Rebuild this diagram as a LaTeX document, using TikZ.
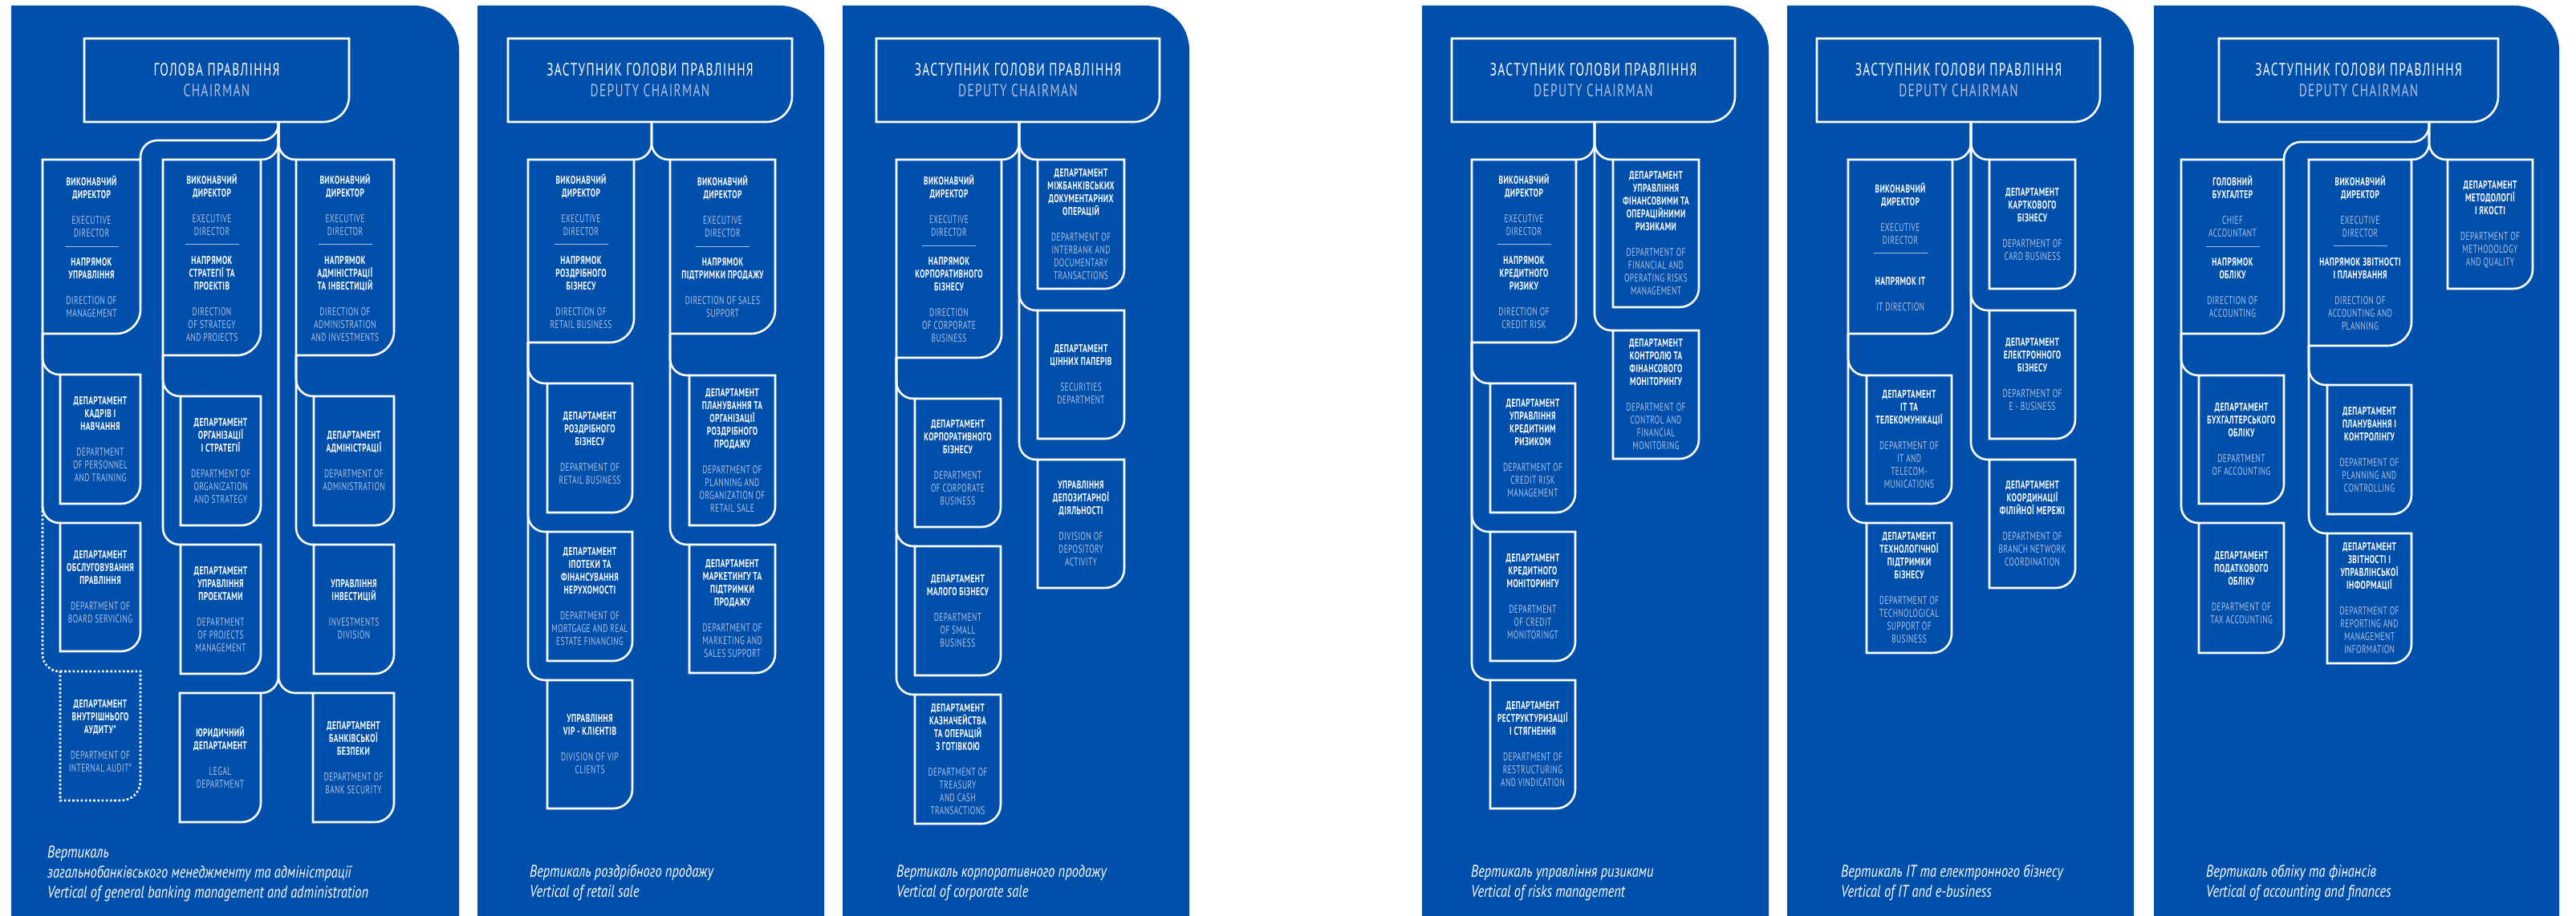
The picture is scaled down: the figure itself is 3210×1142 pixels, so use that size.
\documentclass[tikz,border=0pt]{standalone}
\usepackage{fontspec}
\setmainfont{PT Sans}[FakeStretch=0.67,LetterSpace=3]
\newfontfamily\titlefont{PT Sans}[FakeStretch=0.7,LetterSpace=6]
\newfontfamily\capfont{PT Sans}[FakeStretch=0.78]
\definecolor{panel}{RGB}{0,79,170}
\definecolor{lt}{RGB}{178,192,228}
\newcommand\blk{\\[16pt]}
\newcommand\eng[1]{{\mdseries\color{lt}#1}}
\newcommand\rsep{\\[-4pt]{\color{lt}\rule{67pt}{0.8pt}}\\[8pt]}
\newcommand\EDhead{ВИКОНАВЧИЙ\\ДИРЕКТОР\blk\eng{EXECUTIVE\\DIRECTOR}\rsep}
\newcommand\dep{ДЕПАРТАМЕНТ}
\newcommand\panelshape[2]{%
  \fill[panel] (#1,1142) -- (#1,7) -- ({#2-55},7) .. controls ({#2-24.6},7) and (#2,31.6) .. (#2,62) -- (#2,1142) -- cycle;}
\newcommand\ubox[8][]{%
  \draw[boxline,#1] (#3,#4) -- (#5,#4) -- (#5,{#6-#7}) .. controls (#5,{#6-0.448*#7}) and ({#5-0.448*#7},#6) .. ({#5-#7},#6) -- (#3,#6) -- cycle;
  \node[boxtext, minimum width={(#5-#3)*1pt}, minimum height={(#6-#4)*1pt}] (#2) at ({(#3+#5)/2},{(#4+#6)/2}) {\makebox[0pt][c]{\parbox[c]{180pt}{\centering #8}}};}
\newcommand\tbox[7]{%
  \draw[boxline] (#2,#3) -- (#4,#3) -- (#4,{#5-32}) .. controls (#4,{#5-14.3}) and ({#4-14.3},#5) .. ({#4-32},#5) -- (#2,#5) -- cycle;
  \node[toptext, minimum width={(#4-#2)*1pt}, minimum height={(#5-#3)*1pt}] (#1) at ({(#2+#4)/2},{(#3+#5)/2}) {#6\\{\color{lt}#7}};}
\tikzset{
  boxline/.style={draw=white, line width=2.6pt},
  dotline/.style={draw=white, line width=2.6pt, dash pattern=on 2.6pt off 2.6pt},
  conn/.style={draw=white, line width=2.6pt, rounded corners=21pt},
  boxtext/.style={inner sep=0pt, outer sep=0pt, text=white, font=\fontsize{14}{16}\selectfont\bfseries},
  toptext/.style={inner sep=0pt, outer sep=0pt, align=center, text=white, font=\titlefont\fontsize{22}{26}\selectfont},
  captext/.style={anchor=base west, inner sep=0pt, text=white, font=\capfont\fontsize{21}{25}\selectfont\itshape},
}
\begin{document}
\begin{tikzpicture}[x=1pt,y=-1pt]
\useasboundingbox (0,0) rectangle (3210,1142);
\fill[white] (0,0) rectangle (3210,1142);
\panelshape{14}{572}
\panelshape{595}{1027}
\panelshape{1050}{1482}
\panelshape{1772}{2204}
\panelshape{2227}{2659}
\panelshape{2684}{3189}

% ---------------- Panel 1 ----------------
\tbox{top1}{105}{48}{435}{152}{ГОЛОВА ПРАВЛІННЯ}{CHAIRMAN}
\ubox{e11}{53}{199}{175}{416}{30}{\EDhead НАПРЯМОК\\УПРАВЛІННЯ\blk\eng{DIRECTION OF\\MANAGEMENT}}
\ubox{e12}{203}{199}{325}{443}{30}{\EDhead НАПРЯМОК\\СТРАТЕГІЇ ТА\\ПРОЕКТІВ\blk\eng{DIRECTION\\OF STRATEGY\\AND PROJECTS}}
\ubox{e13}{369}{199}{491}{443}{30}{\EDhead НАПРЯМОК\\АДМІНІСТРАЦІЇ\\ТА ІНВЕСТИЦІЙ\blk\eng{DIRECTION OF\\ADMINISTRATION\\AND INVESTMENTS}}
\ubox{s11}{75}{467}{175}{628}{24}{\dep\\КАДРІВ І\\НАВЧАННЯ\blk\eng{DEPARTMENT\\OF PERSONNEL\\AND TRAINING}}
\ubox{s12}{75}{652}{175}{812}{24}{\dep\\ОБСЛУГОВУВАННЯ\\ПРАВЛІННЯ\blk\eng{DEPARTMENT OF\\BOARD SERVICING}}
\ubox[dotline]{s13}{75}{837}{175}{998}{24}{\dep\\ВНУТРІШНЬОГО\\АУДИТУ*\blk\eng{DEPARTMENT OF\\INTERNAL AUDIT*}}
\ubox{s21}{225}{494}{325}{655}{24}{\dep\\ОРГАНІЗАЦІЇ\\І СТРАТЕГІЇ\blk\eng{DEPARTMENT OF\\ORGANIZATION\\AND STRATEGY}}
\ubox{s22}{225}{679}{325}{840}{24}{\dep\\УПРАВЛІННЯ\\ПРОЕКТАМИ\blk\eng{DEPARTMENT\\OF PROJECTS\\MANAGEMENT}}
\ubox{s23}{224}{864}{325}{1025}{24}{ЮРИДИЧНИЙ\\\dep\blk\eng{LEGAL\\DEPARTMENT}}
\ubox{s31}{391}{494}{491}{655}{24}{\dep\\АДМІНІСТРАЦІЇ\blk\eng{DEPARTMENT OF\\ADMINISTRATION}}
\ubox{s32}{391}{679}{491}{840}{24}{УПРАВЛІННЯ\\ІНВЕСТИЦІЙ\blk\eng{INVESTMENTS\\DIVISION}}
\ubox{s33}{390}{864}{491}{1025}{24}{\dep\\БАНКІВСЬКОЇ\\БЕЗПЕКИ\blk\eng{DEPARTMENT OF\\BANK SECURITY}}
\coordinate (j1) at (347,177);
\coordinate (jl1) at (347,175);
\draw[conn] (top1.south -| j1) -- (jl1) -- (jl1 -| e11.north east) -- (e11.north east);
\draw[conn] (top1.south -| j1) -- (j1 |- e12.north east) -- (e12.north east);
\draw[conn] (top1.south -| j1) -- (j1 |- e13.north west) -- (e13.north west);
\draw[conn] (top1.south -| j1) -- (j1 |- s23.north east) -- (s23.north east);
\draw[conn] (top1.south -| j1) -- (j1 |- s33.north west) -- (s33.north west);
\draw[conn] (e11.south west) -- (e11.south west |- s11.north west) -- (s11.north west);
\draw[conn] (e11.south west) -- (e11.south west |- s12.north west) -- (s12.north west);
\coordinate (d1) at (e11.south west |- s12.north west);
\draw[conn,dotline] ([yshift=21pt]d1) -- (d1 |- s13.north west) -- (s13.north west);
\draw[conn] (e12.south west) -- (e12.south west |- s21.north west) -- (s21.north west);
\draw[conn] (e12.south west) -- (e12.south west |- s22.north west) -- (s22.north west);
\draw[conn] (e13.south west) -- (e13.south west |- s31.north west) -- (s31.north west);
\draw[conn] (e13.south west) -- (e13.south west |- s32.north west) -- (s32.north west);
\node[captext] (c1a) at (59,1069) {Вертикаль};
\node[captext] (c1b) at (59,1094) {загальнобанківського менеджменту та адміністрації};
\node[captext] (c1c) at (59,1119) {Vertical of general banking management and administration};

% ---------------- Panel 2 ----------------
\tbox{top2}{633}{48}{987}{152}{ЗАСТУПНИК ГОЛОВИ ПРАВЛІННЯ}{DEPUTY CHAIRMAN}
\ubox{e21}{658}{199}{790}{427}{30}{\EDhead НАПРЯМОК\\РОЗДРІБНОГО\\БІЗНЕСУ\blk\eng{DIRECTION OF\\RETAIL BUSINESS}}
\ubox{e22}{835}{199}{966}{416}{30}{\EDhead НАПРЯМОК\\ПІДТРИМКИ ПРОДАЖУ\blk\eng{DIRECTION OF SALES\\SUPPORT}}
\ubox{p2l1}{682}{478}{788}{639}{24}{\dep\\РОЗДРІБНОГО\\БІЗНЕСУ\blk\eng{DEPARTMENT OF\\RETAIL BUSINESS}}
\ubox{p2l2}{682}{663}{788}{824}{24}{\dep\\ІПОТЕКИ ТА\\ФІНАНСУВАННЯ\\НЕРУХОМОСТІ\blk\eng{DEPARTMENT OF\\MORTGAGE AND REAL\\ESTATE FINANCING}}
\ubox{p2l3}{682}{848}{788}{1008}{24}{УПРАВЛІННЯ\\VIP - КЛІЄНТІВ\blk\eng{DIVISION OF VIP\\CLIENTS}}
\ubox{p2r1}{859}{468}{966}{655}{24}{\dep\\ПЛАНУВАННЯ ТА\\ОРГАНІЗАЦІЇ\\РОЗДРІБНОГО\\ПРОДАЖУ\blk\eng{DEPARTMENT OF\\PLANNING AND\\ORGANIZATION OF\\RETAIL SALE}}
\ubox{p2r2}{859}{679}{966}{839}{24}{\dep\\МАРКЕТИНГУ ТА\\ПІДТРИМКИ\\ПРОДАЖУ\blk\eng{DEPARTMENT OF\\MARKETING AND\\SALES SUPPORT}}
\coordinate (j2) at (812,177);
\draw[conn] (top2.south -| j2) -- (j2 |- e21.north east) -- (e21.north east);
\draw[conn] (top2.south -| j2) -- (j2 |- e22.north west) -- (e22.north west);
\draw[conn] (e21.south west) -- (e21.south west |- p2l1.north west) -- (p2l1.north west);
\draw[conn] (e21.south west) -- (e21.south west |- p2l2.north west) -- (p2l2.north west);
\draw[conn] (e21.south west) -- (e21.south west |- p2l3.north west) -- (p2l3.north west);
\draw[conn] (e22.south west) -- (e22.south west |- p2r1.north west) -- (p2r1.north west);
\draw[conn] (e22.south west) -- (e22.south west |- p2r2.north west) -- (p2r2.north west);
\node[captext] (c2a) at (660,1093) {Вертикаль роздрібного продажу};
\node[captext] (c2b) at (660,1118) {Vertical of retail sale};

% ---------------- Panel 3 ----------------
\tbox{top3}{1092}{48}{1445}{152}{ЗАСТУПНИК ГОЛОВИ ПРАВЛІННЯ}{DEPUTY CHAIRMAN}
\ubox{e31}{1117}{199}{1248}{446}{30}{\EDhead НАПРЯМОК\\КОРПОРАТИВНОГО\\БІЗНЕСУ\blk\eng{DIRECTION\\OF CORPORATE\\BUSINESS}}
\ubox{p3l1}{1140}{497}{1247}{657}{24}{\dep\\КОРПОРАТИВНОГО\\БІЗНЕСУ\blk\eng{DEPARTMENT\\OF CORPORATE\\BUSINESS}}
\ubox{p3l2}{1140}{681}{1247}{842}{24}{\dep\\МАЛОГО БІЗНЕСУ\blk\eng{DEPARTMENT\\OF SMALL\\BUSINESS}}
\ubox{p3l3}{1140}{866}{1247}{1027}{24}{\dep\\КАЗНАЧЕЙСТВА\\ТА ОПЕРАЦІЙ\\З ГОТІВКОЮ\blk\eng{DEPARTMENT OF\\TREASURY\\AND CASH\\TRANSACTIONS}}
\ubox{p3r1}{1293}{199}{1401}{360}{24}{\dep\\МІЖБАНКІВСЬКИХ\\ДОКУМЕНТАРНИХ\\ОПЕРАЦІЙ\blk\eng{DEPARTMENT OF\\INTERBANK AND\\DOCUMENTARY\\TRANSACTIONS}}
\ubox{p3r2}{1293}{387}{1401}{547}{24}{\dep\\ЦІННИХ ПАПЕРІВ\blk\eng{SECURITIES\\DEPARTMENT}}
\ubox{p3r3}{1293}{573}{1401}{733}{24}{УПРАВЛІННЯ\\ДЕПОЗИТАРНОЇ\\ДІЯЛЬНОСТІ\blk\eng{DIVISION OF\\DEPOSITORY\\ACTIVITY}}
\coordinate (j3) at (1270,177);
\draw[conn] (top3.south -| j3) -- (j3 |- e31.north east) -- (e31.north east);
\draw[conn] (top3.south -| j3) -- (j3 |- p3r1.north west) -- (p3r1.north west);
\draw[conn] (top3.south -| j3) -- (j3 |- p3r2.north west) -- (p3r2.north west);
\draw[conn] (top3.south -| j3) -- (j3 |- p3r3.north west) -- (p3r3.north west);
\draw[conn] (e31.south west) -- (e31.south west |- p3l1.north west) -- (p3l1.north west);
\draw[conn] (e31.south west) -- (e31.south west |- p3l2.north west) -- (p3l2.north west);
\draw[conn] (e31.south west) -- (e31.south west |- p3l3.north west) -- (p3l3.north west);
\node[captext] (c3a) at (1117,1093) {Вертикаль корпоративного продажу};
\node[captext] (c3b) at (1117,1118) {Vertical of corporate sale};

% ---------------- Panel 4 ----------------
\tbox{top4}{1809}{48}{2162}{152}{ЗАСТУПНИК ГОЛОВИ ПРАВЛІННЯ}{DEPUTY CHAIRMAN}
\ubox{e41}{1834}{199}{1964}{427}{30}{\EDhead НАПРЯМОК\\КРЕДИТНОГО\\РИЗИКУ\blk\eng{DIRECTION OF\\CREDIT RISK}}
\ubox{p4l1}{1857}{478}{1963}{639}{24}{\dep\\УПРАВЛІННЯ\\КРЕДИТНИМ\\РИЗИКОМ\blk\eng{DEPARTMENT OF\\CREDIT RISK\\MANAGEMENT}}
\ubox{p4l2}{1857}{663}{1963}{824}{24}{\dep\\КРЕДИТНОГО\\МОНІТОРИНГУ\blk\eng{DEPARTMENT\\OF CREDIT\\MONITORINGT}}
\ubox{p4l3}{1857}{848}{1963}{1008}{24}{\dep\\РЕСТРУКТУРИЗАЦІЇ\\І СТЯГНЕННЯ\blk\eng{DEPARTMENT OF\\RESTRUCTURING\\AND VINDICATION}}
\ubox{p4r1}{2010}{199}{2117}{383}{24}{\dep\\УПРАВЛІННЯ\\ФІНАНСОВИМИ ТА\\ОПЕРАЦІЙНИМИ\\РИЗИКАМИ\blk\eng{DEPARTMENT OF\\FINANCIAL AND\\OPERATING RISKS\\MANAGEMENT}}
\ubox{p4r2}{2010}{412}{2117}{572}{24}{\dep\\КОНТРОЛЮ ТА\\ФІНАНСОВОГО\\МОНІТОРИНГУ\blk\eng{DEPARTMENT OF\\CONTROL AND\\FINANCIAL\\MONITORING}}
\coordinate (j4) at (1987,177);
\draw[conn] (top4.south -| j4) -- (j4 |- e41.north east) -- (e41.north east);
\draw[conn] (top4.south -| j4) -- (j4 |- p4r1.north west) -- (p4r1.north west);
\draw[conn] (top4.south -| j4) -- (j4 |- p4r2.north west) -- (p4r2.north west);
\draw[conn] (e41.south west) -- (e41.south west |- p4l1.north west) -- (p4l1.north west);
\draw[conn] (e41.south west) -- (e41.south west |- p4l2.north west) -- (p4l2.north west);
\draw[conn] (e41.south west) -- (e41.south west |- p4l3.north west) -- (p4l3.north west);
\node[captext] (c4a) at (1833,1093) {Вертикаль управління ризиками};
\node[captext] (c4b) at (1833,1118) {Vertical of risks management};

% ---------------- Panel 5 ----------------
\tbox{top5}{2264}{48}{2617}{152}{ЗАСТУПНИК ГОЛОВИ ПРАВЛІННЯ}{DEPUTY CHAIRMAN}
\ubox{e51}{2303}{199}{2433}{416}{30}{ВИКОНАВЧИЙ\\ДИРЕКТОР\blk\eng{EXECUTIVE\\DIRECTOR}\\[-4pt]{\color{lt}\rule{67pt}{0.8pt}}\\[23pt]НАПРЯМОК IT\blk\eng{IT DIRECTION}}
\ubox{p5l1}{2326}{468}{2432}{628}{24}{\dep\\IT ТА\\ТЕЛЕКОМУНІКАЦІЇ\blk\eng{DEPARTMENT OF\\IT AND\\TELECOM-\\MUNICATIONS}}
\ubox{p5l2}{2326}{652}{2432}{814}{24}{\dep\\ТЕХНОЛОГІЧНОЇ\\ПІДТРИМКИ\\БІЗНЕСУ\blk\eng{DEPARTMENT OF\\TECHNOLOGICAL\\SUPPORT OF\\BUSINESS}}
\ubox{p5r1}{2479}{199}{2586}{360}{24}{\dep\\КАРТКОВОГО\\БІЗНЕСУ\blk\eng{DEPARTMENT OF\\CARD BUSINESS}}
\ubox{p5r2}{2479}{387}{2586}{547}{24}{\dep\\ЕЛЕКТРОННОГО\\БІЗНЕСУ\blk\eng{DEPARTMENT OF\\E - BUSINESS}}
\ubox{p5r3}{2479}{573}{2586}{733}{24}{\dep\\КООРДИНАЦІЇ\\ФІЛІЙНОЇ МЕРЕЖІ\blk\eng{DEPARTMENT OF\\BRANCH NETWORK\\COORDINATION}}
\coordinate (j5) at (2456,177);
\draw[conn] (top5.south -| j5) -- (j5 |- e51.north east) -- (e51.north east);
\draw[conn] (top5.south -| j5) -- (j5 |- p5r1.north west) -- (p5r1.north west);
\draw[conn] (top5.south -| j5) -- (j5 |- p5r2.north west) -- (p5r2.north west);
\draw[conn] (top5.south -| j5) -- (j5 |- p5r3.north west) -- (p5r3.north west);
\draw[conn] (e51.south west) -- (e51.south west |- p5l1.north west) -- (p5l1.north west);
\draw[conn] (e51.south west) -- (e51.south west |- p5l2.north west) -- (p5l2.north west);
\node[captext] (c5a) at (2294,1093) {Вертикаль IT та електронного бізнесу};
\node[captext] (c5b) at (2294,1118) {Vertical of IT and e-business};

% ---------------- Panel 6 ----------------
\tbox{top6}{2765}{48}{3113}{152}{ЗАСТУПНИК ГОЛОВИ ПРАВЛІННЯ}{DEPUTY CHAIRMAN}
\ubox{e61}{2718}{199}{2846}{416}{30}{ГОЛОВНИЙ\\БУХГАЛТЕР\blk\eng{CHIEF\\ACCOUNTANT}\rsep НАПРЯМОК\\ОБЛІКУ\blk\eng{DIRECTION OF\\ACCOUNTING}}
\ubox{e62}{2877}{199}{3005}{431}{30}{\EDhead НАПРЯМОК ЗВІТНОСТІ\\І ПЛАНУВАННЯ\blk\eng{DIRECTION OF\\ACCOUNTING AND\\PLANNING}}
\ubox{p6r1}{3050}{199}{3156}{360}{24}{\dep\\МЕТОДОЛОГІЇ\\І ЯКОСТІ\blk\eng{DEPARTMENT OF\\METHODOLOGY\\AND QUALITY}}
\ubox{p6l1}{2740}{468}{2846}{628}{24}{\dep\\БУХГАЛТЕРСЬКОГО\\ОБЛІКУ\blk\eng{DEPARTMENT\\OF ACCOUNTING}}
\ubox{p6l2}{2740}{652}{2846}{814}{24}{\dep\\ПОДАТКОВОГО\\ОБЛІКУ\blk\eng{DEPARTMENT OF\\TAX ACCOUNTING}}
\ubox{p6m1}{2900}{480}{3005}{641}{24}{\dep\\ПЛАНУВАННЯ І\\КОНТРОЛІНГУ\blk\eng{DEPARTMENT OF\\PLANNING AND\\CONTROLLING}}
\ubox{p6m2}{2900}{665}{3005}{827}{24}{\dep\\ЗВІТНОСТІ І\\УПРАВЛІНСЬКОЇ\\ІНФОРМАЦІЇ\blk\eng{DEPARTMENT OF\\REPORTING AND\\MANAGEMENT\\INFORMATION}}
\coordinate (j6) at (3027,177);
\coordinate (jl6) at (3027,177);
\draw[conn] (top6.south -| j6) -- (jl6) -- (jl6 -| e61.north east) -- (e61.north east);
\draw[conn] (top6.south -| j6) -- (j6 |- e62.north east) -- (e62.north east);
\draw[conn] (top6.south -| j6) -- (j6 |- p6r1.north west) -- (p6r1.north west);
\draw[conn] (e61.south west) -- (e61.south west |- p6l1.north west) -- (p6l1.north west);
\draw[conn] (e61.south west) -- (e61.south west |- p6l2.north west) -- (p6l2.north west);
\draw[conn] (e62.south west) -- (e62.south west |- p6m1.north west) -- (p6m1.north west);
\draw[conn] (e62.south west) -- (e62.south west |- p6m2.north west) -- (p6m2.north west);
\node[captext] (c6a) at (2749,1093) {Вертикаль обліку та фінансів};
\node[captext] (c6b) at (2749,1118) {Vertical of accounting and finances};
\end{tikzpicture}
\end{document}
